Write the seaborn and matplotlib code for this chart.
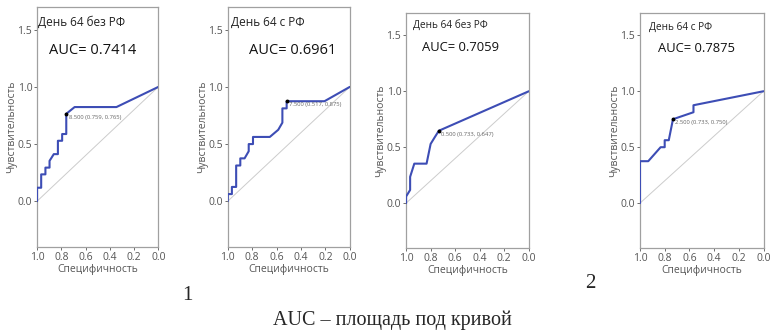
import matplotlib
matplotlib.use("Agg")
import matplotlib.pyplot as plt
import seaborn as sns
import pandas as pd

sns.set_style("white")
plt.rcParams['font.family'] = ['Open Sans', 'DejaVu Sans']

# ROC curves: specificity (x) and sensitivity (y)
spec_1 = [1.0, 1.0, 0.966, 0.966, 0.931, 0.931, 0.897, 0.897, 0.862, 0.828, 0.828,
          0.793, 0.793, 0.759, 0.759, 0.690, 0.345, 0.0]
sens_1 = [0.0, 0.118, 0.118, 0.235, 0.235, 0.294, 0.294, 0.353, 0.412, 0.412, 0.529,
          0.529, 0.588, 0.588, 0.765, 0.824, 0.824, 1.0]

spec_2 = [1.0, 1.0, 0.966, 0.966, 0.931, 0.931, 0.897, 0.897, 0.862, 0.828, 0.828,
          0.793, 0.793, 0.655, 0.586, 0.552, 0.552, 0.517, 0.517, 0.207, 0.0]
sens_2 = [0.0, 0.0625, 0.0625, 0.125, 0.125, 0.3125, 0.3125, 0.375, 0.375, 0.4375, 0.5,
          0.5, 0.5625, 0.5625, 0.625, 0.6875, 0.8125, 0.8125, 0.875, 0.875, 1.0]

spec_3 = [1.0, 1.0, 0.967, 0.967, 0.933, 0.833, 0.8, 0.767, 0.733, 0.0]
sens_3 = [0.0, 0.059, 0.118, 0.235, 0.353, 0.353, 0.529, 0.588, 0.647, 1.0]

spec_4 = [1.0, 1.0, 0.933, 0.833, 0.8, 0.8, 0.767, 0.733, 0.567, 0.567, 0.0]
sens_4 = [0.0, 0.375, 0.375, 0.5, 0.5, 0.5625, 0.5625, 0.75, 0.8125, 0.875, 1.0]

titles = ['День 64 без РФ', 'День 64 с РФ', 'День 64 без РФ', 'День 64 с РФ']
auc_values = [0.7414, 0.6961, 0.7059, 0.7875]
cut_labels = ['8.500 (0.759, 0.765)', '7.500 (0.517, 0.875)',
              '0.500 (0.733, 0.647)', '2.500 (0.733, 0.750)']
cut_points = [(0.759, 0.765), (0.517, 0.875), (0.733, 0.647), (0.733, 0.750)]
y_ticks = [0.0, 0.5, 1.0, 1.5]
x_ticks = [1.0, 0.8, 0.6, 0.4, 0.2, 0.0]

curves = [(spec_1, sens_1), (spec_2, sens_2), (spec_3, sens_3), (spec_4, sens_4)]

# axes boxes in figure fraction (left, bottom, width, height)
boxes = [(0.048, 0.254, 0.157, 0.725),
         (0.295, 0.254, 0.158, 0.725),
         (0.526, 0.251, 0.159, 0.710),
         (0.829, 0.251, 0.160, 0.710)]
title_pos = [(0.005, 0.935), (0.03, 0.935), (0.057, 0.949), (0.073, 0.94)]
auc_pos = [(0.46, 0.82), (0.53, 0.82), (0.447, 0.851), (0.46, 0.847)]
title_size = [8.5, 8.5, 7.2, 7.2]
auc_size = [10.5, 10.5, 9.4, 9.4]

blue = '#3d4db5'
gray_txt = '#555555'

fig = plt.figure(figsize=(7.72, 3.31), dpi=100)

for i, (spec, sens) in enumerate(curves):
    ax = fig.add_axes(boxes[i])
    df = pd.DataFrame({'spec': spec, 'sens': sens})
    # chance line
    ax.plot([1, 0], [0, 1], color='#cccccc', lw=0.7, zorder=1)
    sns.lineplot(data=df, x='spec', y='sens', sort=False, estimator=None,
                 color=blue, lw=1.5, ax=ax, zorder=3)
    cx, cy = cut_points[i]
    ax.plot([cx], [cy], 'o', color='black', ms=1.8, zorder=4)
    ax.text(cx - 0.02, cy - 0.03, cut_labels[i], fontsize=4.2, color='#666666',
            va='center', ha='left', zorder=4)
    ax.set_xlim(1.0, 0.0)
    ax.set_ylim(-0.4, 1.7)
    ax.set_xticks(x_ticks)
    ax.set_yticks(y_ticks)
    ax.tick_params(axis='both', labelsize=7.5, colors=gray_txt, length=2, width=0.6,
                   pad=1.5, left=True, bottom=True)
    for s in ax.spines.values():
        s.set_color('#a0a0a0')
        s.set_linewidth(0.9)
    ax.set_xlabel('Специфичность', fontsize=7.5, color=gray_txt, labelpad=1)
    ax.set_ylabel('Чувствительность', fontsize=7.5, color=gray_txt, labelpad=0)
    ax.text(title_pos[i][0], title_pos[i][1], titles[i], transform=ax.transAxes,
            fontsize=title_size[i], color='#222222', ha='left', va='center')
    ax.text(auc_pos[i][0], auc_pos[i][1], 'AUC= %.4f' % auc_values[i],
            transform=ax.transAxes, fontsize=auc_size[i], color='#111111',
            ha='center', va='center')

fig.text(187 / 772, 1 - 295 / 331, '1', fontsize=15, family='Liberation Serif',
         ha='center', va='center')
fig.text(590 / 772, 1 - 283 / 331, '2', fontsize=15, family='Liberation Serif',
         ha='center', va='center')
fig.text(392 / 772, 1 - 320 / 331, 'AUC – площадь под кривой', fontsize=14.5,
         family='Liberation Serif', ha='center', va='center')

fig.savefig('out.png', dpi=100)
